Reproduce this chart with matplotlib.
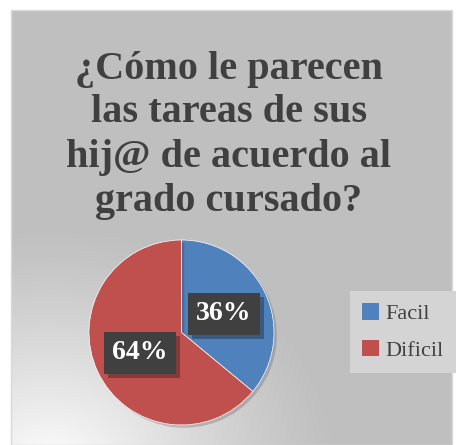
import numpy as np
import matplotlib.pyplot as plt
import matplotlib.patheffects as pe
from matplotlib.patches import Rectangle

labels = ["Facil", "Dificil"]
values = [36, 64]
colors = ["#4F81BD", "#C0504D"]
title = "¿Cómo le parecen\nlas tareas de sus\nhij@ de acuerdo al\ngrado cursado?"

fig = plt.figure(figsize=(4.58, 4.45), dpi=100)
W, H = 458, 445

# gray panel with soft white glow at the bottom-left
bg = fig.add_axes([0, 0, 1, 1])
bg.set_xlim(0, W)
bg.set_ylim(H, 0)
bg.axis("off")
yy, xx = np.mgrid[0:H, 0:W]
d = np.hypot((xx - 40) / 300.0, (yy - 470) / 250.0)
shade = 0.75 + 0.25 * np.clip(1 - d, 0, 1) ** 1.2
img = np.dstack([shade] * 3)
bg.imshow(img, extent=[11, 452, 445, 10], aspect="auto", zorder=0)
bg.add_patch(Rectangle((11, 10), 441, 435, fill=False, edgecolor="#d9d9d9", lw=1))

bg.text(229, 135, title, ha="center", va="center", fontsize=29,
        fontweight="bold", family="Liberation Serif", color="#404040",
        linespacing=1.25)

ax = fig.add_axes([89 / W, 1 - 425 / H, 185 / W, 185 / H])
wedges, _ = ax.pie(values, colors=colors, startangle=90, counterclock=False,
                   wedgeprops=dict(edgecolor="white", linewidth=0.5))
ax.set_xlim(-1, 1)
ax.set_ylim(-1, 1)
ax.set_aspect("equal")

pos = [(0.46, 0.2), (-0.45, -0.22)]
for v, (x, y) in zip(values, pos):
    t = ax.text(x, y, f"{v}%", ha="center", va="center", fontsize=20,
                fontweight="bold", family="Liberation Serif", color="white",
                bbox=dict(boxstyle="square,pad=0.3", fc="#404040", ec="none"))
    t.get_bbox_patch().set_path_effects(
        [pe.SimplePatchShadow(offset=(3, -3), alpha=0.35), pe.Normal()])

leg = fig.legend(wedges, labels, loc="center", bbox_to_anchor=(403 / W, 1 - 332 / H),
                 frameon=True, fancybox=False, handlelength=0.75, handleheight=0.75,
                 handletextpad=0.3, labelspacing=0.7, borderpad=0.55, borderaxespad=0,
                 prop=dict(family="Liberation Serif", size=16))
leg.get_frame().set_facecolor("#d4d4d4")
leg.get_frame().set_edgecolor("none")
leg.get_frame().set_alpha(1)
for t in leg.get_texts():
    t.set_color("#404040")
for h in leg.legend_handles:
    h.set_edgecolor("none")

# soft shadow on the pie only (set after the legend so handles stay flat)
for w in wedges:
    w.set_path_effects([pe.SimplePatchShadow(offset=(2, -2), alpha=0.2), pe.Normal()])

fig.savefig("out.png", dpi=100, facecolor="white")
